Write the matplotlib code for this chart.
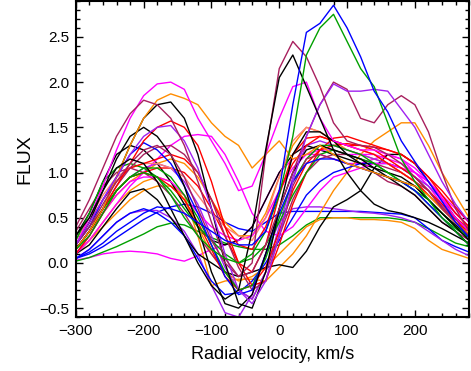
import matplotlib
matplotlib.use("Agg")
import matplotlib.pyplot as plt
from matplotlib.ticker import MultipleLocator

plt.rcParams['font.family'] = ['Liberation Sans', 'DejaVu Sans']

velocity = list(range(-300, 281, 20))

blue_tall = [0.05,0.12,0.22,0.35,0.45,0.55,0.62,0.6,0.55,0.45,0.35,0.25,0.2,0.2,0.35,0.8,1.75,2.55,2.65,2.85,2.6,2.28,1.9,1.67,1.35,1.12,0.9,0.68,0.45,0.28]
green_tall = [0.15,0.3,0.55,0.8,0.95,1.0,0.95,0.75,0.5,0.3,0.15,0.05,0.0,0.1,0.35,0.75,1.4,2.3,2.6,2.75,2.45,2.15,1.95,1.55,1.15,0.9,0.7,0.5,0.35,0.2]
black_tall = [0.3,0.5,0.8,1.05,1.15,1.1,0.9,0.6,0.3,0.0,-0.25,-0.4,-0.3,0.35,1.25,2.05,2.3,1.95,1.6,1.25,1.0,0.8,0.65,0.58,0.55,0.5,0.45,0.38,0.3,0.22]
maroon_tall = [0.4,0.7,1.05,1.4,1.65,1.8,1.75,1.6,1.3,0.9,0.45,0.05,-0.15,0.0,1.2,2.15,2.45,2.28,1.95,1.55,1.35,1.3,1.28,1.2,1.1,0.95,0.8,0.6,0.45,0.3]
violet_high = [0.2,0.45,0.7,0.95,1.2,1.4,1.5,1.52,1.35,1.05,0.6,0.1,-0.3,-0.45,-0.2,0.3,0.9,1.4,1.75,1.98,1.9,1.9,1.92,1.9,1.7,1.5,1.2,0.9,0.65,0.45]
maroon_dip = [0.2,0.4,0.65,0.9,1.1,1.25,1.3,1.2,0.95,0.6,0.25,0.0,-0.15,-0.1,0.2,0.6,1.0,1.4,1.75,2.0,1.92,1.6,1.55,1.75,1.85,1.75,1.45,1.0,0.6,0.35]
magenta_high = [0.2,0.5,0.85,1.25,1.6,1.85,1.98,2.0,1.92,1.6,1.35,1.1,0.8,0.85,1.2,1.6,1.95,2.0,1.6,1.35,1.3,1.25,1.25,1.2,1.15,1.05,0.9,0.7,0.5,0.35]
orange_high = [0.15,0.35,0.6,0.95,1.3,1.6,1.8,1.87,1.82,1.75,1.55,1.4,1.3,1.05,1.2,1.35,1.15,1.2,1.3,1.2,1.1,1.05,1.0,0.95,0.9,0.85,0.75,0.6,0.45,0.3]
orange_right = [0.1,0.25,0.4,0.55,0.7,0.8,0.85,0.85,0.75,0.3,-0.25,-0.2,-0.18,-0.18,-0.2,-0.05,0.1,0.3,0.55,0.8,1.0,1.2,1.35,1.45,1.55,1.55,1.3,1.0,0.75,0.5]
blue_flat = [0.05,0.1,0.18,0.28,0.38,0.48,0.56,0.62,0.65,0.62,0.55,0.45,0.38,0.35,0.45,0.55,0.57,0.57,0.57,0.57,0.57,0.57,0.56,0.55,0.54,0.5,0.38,0.25,0.18,0.12]
violet_flat = [0.05,0.15,0.3,0.45,0.55,0.58,0.58,0.5,0.35,0.1,-0.25,-0.55,-0.6,-0.35,0.1,0.45,0.6,0.62,0.62,0.6,0.58,0.56,0.55,0.53,0.5,0.45,0.35,0.25,0.15,0.08]
green_flat = [0.02,0.06,0.12,0.18,0.25,0.32,0.4,0.44,0.42,0.35,0.28,0.22,0.18,0.15,0.15,0.2,0.3,0.42,0.5,0.5,0.5,0.5,0.5,0.5,0.48,0.45,0.38,0.3,0.22,0.18]
orange_flat = [0.1,0.25,0.45,0.65,0.8,0.9,0.95,0.9,0.7,0.4,0.1,-0.1,-0.2,-0.15,-0.05,0.1,0.25,0.4,0.48,0.5,0.5,0.48,0.48,0.47,0.45,0.38,0.25,0.15,0.1,0.05]
magenta_low = [0.03,0.06,0.1,0.12,0.13,0.12,0.1,0.05,0.02,0.08,0.15,0.2,0.25,0.4,0.7,1.0,1.15,1.2,1.2,1.15,1.1,1.1,1.15,1.2,1.15,1.0,0.85,0.65,0.5,0.35]
black_slow = [0.1,0.2,0.4,0.6,0.78,0.82,0.7,0.5,0.3,0.1,0.0,-0.1,-0.15,-0.1,-0.05,-0.02,-0.05,0.13,0.4,0.62,0.7,0.8,1.05,1.2,1.2,1.1,0.9,0.7,0.5,0.3]
black_deep = [0.2,0.45,0.8,1.15,1.4,1.5,1.4,1.2,0.85,0.4,-0.1,-0.45,-0.5,-0.35,0.1,0.6,1.0,1.25,1.3,1.25,1.2,1.15,1.05,0.95,0.85,0.75,0.6,0.45,0.35,0.2]
black_peak = [0.15,0.35,0.6,0.95,1.3,1.6,1.75,1.78,1.6,1.2,0.6,0.0,-0.45,-0.5,-0.1,0.6,1.2,1.45,1.45,1.35,1.2,1.1,1.0,0.95,0.9,0.85,0.7,0.55,0.4,0.25]
red_peak = [0.15,0.35,0.6,0.85,1.1,1.35,1.5,1.57,1.5,1.3,0.9,0.4,0.0,-0.1,0.2,0.75,1.2,1.38,1.4,1.35,1.3,1.25,1.2,1.1,1.0,0.9,0.75,0.6,0.45,0.35]
blue_peak = [0.2,0.4,0.7,0.95,1.2,1.33,1.25,1.1,0.85,0.55,0.2,-0.15,-0.35,-0.3,0.1,0.55,0.9,1.1,1.15,1.15,1.1,1.05,1.0,0.95,0.9,0.8,0.65,0.5,0.35,0.2]
maroon_mid = [0.2,0.4,0.6,0.85,1.05,1.2,1.28,1.3,1.2,1.0,0.7,0.3,-0.05,-0.3,-0.2,0.3,0.85,1.15,1.2,1.15,1.1,1.05,1.0,0.9,0.85,0.75,0.6,0.45,0.35,0.25]
red_mid = [0.2,0.45,0.7,0.9,1.05,1.1,1.15,1.2,1.15,1.0,0.7,0.4,0.2,0.15,0.4,0.8,1.1,1.3,1.4,1.35,1.3,1.3,1.25,1.15,1.05,0.95,0.8,0.65,0.5,0.38]
green_mid = [0.25,0.55,0.9,1.05,1.1,1.05,0.95,0.8,0.6,0.4,0.25,0.1,0.0,0.05,0.2,0.45,0.75,1.0,1.2,1.25,1.2,1.15,1.1,1.0,0.9,0.8,0.7,0.55,0.4,0.3]
green_deep = [0.15,0.35,0.6,0.8,0.95,1.05,1.05,0.95,0.75,0.5,0.2,-0.1,-0.3,-0.25,0.05,0.5,0.9,1.15,1.3,1.3,1.25,1.2,1.1,1.0,0.9,0.8,0.65,0.5,0.38,0.28]
salmon_mid = [0.25,0.5,0.75,0.95,1.05,1.1,1.1,1.05,0.95,0.75,0.55,0.4,0.3,0.25,0.5,0.95,1.35,1.5,1.45,1.35,1.3,1.25,1.2,1.1,1.0,0.9,0.75,0.6,0.45,0.35]
red_late = [0.1,0.3,0.55,0.8,0.95,1.0,1.05,1.05,1.0,0.85,0.6,0.3,0.0,-0.25,-0.2,0.2,0.65,1.0,1.25,1.38,1.4,1.35,1.3,1.25,1.2,1.1,0.95,0.75,0.55,0.4]
red_deep = [0.15,0.35,0.6,0.8,0.95,1.0,0.95,0.85,0.7,0.45,0.15,-0.15,-0.3,-0.25,-0.05,0.35,0.8,1.1,1.25,1.3,1.32,1.3,1.28,1.25,1.2,1.1,0.95,0.8,0.62,0.45]
magenta_flat = [0.1,0.25,0.45,0.65,0.85,1.0,1.15,1.3,1.4,1.42,1.4,1.2,0.9,0.55,0.35,0.3,0.4,0.6,0.8,0.95,1.0,1.05,1.1,1.1,1.05,1.0,0.9,0.75,0.6,0.45]
magenta_mid = [0.1,0.3,0.55,0.75,0.9,0.95,0.95,0.9,0.75,0.55,0.4,0.3,0.25,0.3,0.5,0.8,1.05,1.2,1.25,1.25,1.2,1.2,1.2,1.15,1.1,1.0,0.9,0.72,0.55,0.4]
violet_mid = [0.1,0.3,0.55,0.8,0.95,1.05,1.1,1.05,0.9,0.65,0.3,-0.05,-0.3,-0.4,-0.1,0.4,0.95,1.3,1.35,1.3,1.25,1.2,1.15,1.1,1.05,0.95,0.85,0.7,0.55,0.4]
orange_mid = [0.15,0.35,0.55,0.75,0.9,1.0,1.1,1.15,1.1,0.95,0.7,0.45,0.3,0.3,0.55,0.95,1.3,1.5,1.45,1.35,1.25,1.2,1.15,1.1,1.0,0.9,0.75,0.6,0.45,0.32]
blue_low = [0.05,0.15,0.3,0.45,0.55,0.6,0.55,0.45,0.3,0.05,-0.2,-0.35,-0.33,-0.2,0.0,0.25,0.5,0.75,0.9,1.0,1.05,1.1,1.1,1.1,1.05,0.95,0.8,0.62,0.45,0.3]
black_early = [0.3,0.55,0.9,1.2,1.3,1.25,1.1,0.9,0.65,0.4,0.25,0.2,0.25,0.4,0.7,1.0,1.2,1.3,1.25,1.2,1.15,1.1,1.05,1.0,0.95,0.85,0.7,0.55,0.42,0.28]
maroon_low = [0.35,0.6,0.85,1.0,1.05,1.0,0.9,0.75,0.55,0.3,0.1,-0.1,-0.3,-0.4,-0.1,0.3,0.7,1.0,1.15,1.2,1.2,1.15,1.1,1.05,1.0,0.9,0.8,0.62,0.48,0.35]

MAROON = '#A8205E'
VIOLET = '#A020F0'
GREEN = '#00A000'
ORANGE = '#FF8C00'
SALMON = '#FA8072'

series = [
    (magenta_low, 'magenta'), (green_flat, GREEN), (blue_flat, 'blue'), (violet_flat, VIOLET),
    (orange_flat, ORANGE), (orange_right, ORANGE), (black_slow, 'black'), (blue_low, 'blue'),
    (maroon_low, MAROON), (black_early, 'black'), (orange_mid, ORANGE), (violet_mid, VIOLET),
    (magenta_mid, 'magenta'), (magenta_flat, 'magenta'), (red_deep, 'red'), (red_late, 'red'),
    (salmon_mid, SALMON), (green_deep, GREEN), (green_mid, GREEN), (red_mid, 'red'),
    (maroon_mid, MAROON), (blue_peak, 'blue'), (red_peak, 'red'), (black_peak, 'black'),
    (black_deep, 'black'), (orange_high, ORANGE), (magenta_high, 'magenta'), (maroon_dip, MAROON),
    (violet_high, VIOLET), (maroon_tall, MAROON), (black_tall, 'black'), (green_tall, GREEN),
    (blue_tall, 'blue'),
]

fig = plt.figure(figsize=(4.71, 3.71), dpi=100)
ax = fig.add_axes([0.161, 0.145, 0.835, 0.853])
for vals, col in series:
    ax.plot(velocity, vals, color=col, lw=1.0)

ax.set_xlim(-300, 280)
ax.set_ylim(-0.6, 2.9)
ax.xaxis.set_major_locator(MultipleLocator(100))
ax.xaxis.set_minor_locator(MultipleLocator(20))
ax.yaxis.set_major_locator(MultipleLocator(0.5))
ax.yaxis.set_minor_locator(MultipleLocator(0.1))
ax.tick_params(which='both', direction='in', top=True, right=True, labelsize=11, width=1.0)
ax.tick_params(which='major', length=5, pad=5)
ax.tick_params(which='minor', length=3)
for s in ax.spines.values():
    s.set_linewidth(1.5)
ax.set_xlabel('Radial velocity, km/s', fontsize=13, labelpad=6)
ax.set_ylabel('FLUX', fontsize=14, labelpad=4)
fig.savefig('out.png', dpi=100)
